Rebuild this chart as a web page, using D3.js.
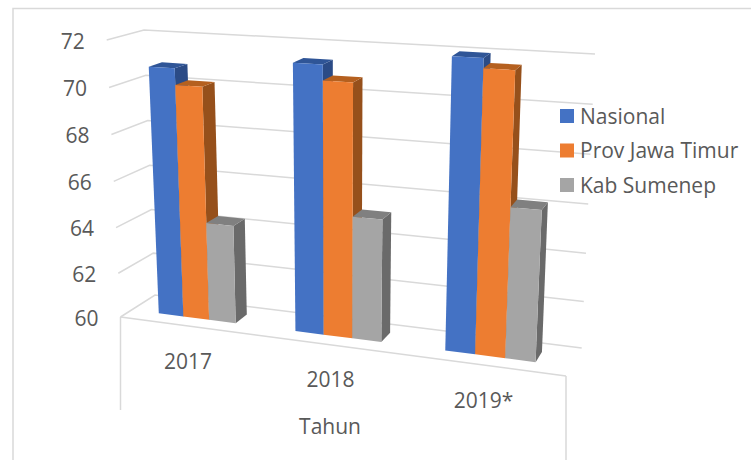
<!DOCTYPE html>
<html lang="en">
<head>
<meta charset="utf-8" />
<title>Tahun</title>
<style>
  body{margin:0;background:#fff;overflow:hidden}
  text{font-family:"Open Sans",sans-serif;fill:#595959}
  .grid{stroke:#d9d9d9;stroke-width:1.5;fill:none}
</style>
<script src="https://cdn.jsdelivr.net/npm/d3@7.9.0/dist/d3.min.js"></script>
</head>
<body>
<div id="chart"></div>
<script>
/* data */
const years = ['2017','2018','2019*'];
const seriesNames = ['Nasional','Prov Jawa Timur','Kab Sumenep'];
const nasional = [70.8,71.35,72.0];
const jatim    = [70.1,70.7,71.6];
const sumenep  = [64.3,65.2,66.2];
const valueTicks = [60,62,64,66,68,70,72];
const xTitle = 'Tahun';

const W = 751, H = 460, FS = 21;
const FRONT = '#4472c4 #ed7d31 #a5a5a5'.split(' ');
const TOP   = '#2f5597 #b5601f #808080'.split(' ');
const SIDE  = '#2b4b86 #96501b #6a6a6a'.split(' ');

/* screen corners of the 3d box: [front/back][left/right][bottom/top] */
const BOX = {
  f:{l:{b:[120.5,317],t:[106.7,40]}, r:{b:[566,376],t:[581,69]}},
  k:{l:{b:[155,295],t:[144,30]},     r:{b:[581.7,348],t:[595,54]}}
};

const lerp = (a,b,t)=>[a[0]+(b[0]-a[0])*t,a[1]+(b[1]-a[1])*t];

/* slight perspective along width and height */
const uScale = d3.scalePow().exponent(1.1).domain([0,1]).range([0,1]);
const vScale = d3.scalePow().exponent(1.03).domain([0,12]).range([0,1]);
const val = v=>vScale(v-60);

/* u 0..1 along the width (already in band space), v value, w 0..1 depth */
function project(u,v,w){
  const su=uScale(Math.max(0,u)), sv=val(v);
  const f=lerp(lerp(BOX.f.l.b,BOX.f.r.b,su),lerp(BOX.f.l.t,BOX.f.r.t,su),sv);
  const k=lerp(lerp(BOX.k.l.b,BOX.k.r.b,su),lerp(BOX.k.l.t,BOX.k.r.t,su),sv);
  return lerp(f,k,w);
}

const x0 = d3.scaleBand().domain(years).range([.01,.995]).paddingInner(.42).paddingOuter(.21);
const x1 = d3.scaleBand().domain(seriesNames).range([0,x0.bandwidth()]);
const xLabel = d3.scalePoint().domain(years).range([.18,.83]);
const W0 = .33, W1 = .7;   // bar depth

const svg = d3.select('#chart').append('svg').attr('width',W).attr('height',H)
  .style('display','block');

/* outer frame, only top and left show */
svg.append('path').attr('class','grid').attr('d',`M13,${H}V8.5H${W}`);

/* walls */
const line = d3.line();
const gridG = svg.append('g');
valueTicks.forEach(v=>{
  gridG.append('path').attr('class','grid')
    .attr('d',line([project(0,v,0),project(0,v,1),project(1,v,1)]));
});
/* floor front edge + the two drops */
gridG.append('path').attr('class','grid').attr('d',line([project(0,60,0),project(1,60,0)]));
gridG.append('path').attr('class','grid').attr('d',line([project(0,60,0),[project(0,60,0)[0],410]]));
gridG.append('path').attr('class','grid').attr('d',line([project(1,60,0),[project(1,60,0)[0],H]]));

/* value labels */
svg.append('g').selectAll('text').data(valueTicks).join('text')
  .attr('x',d=>project(0,d,0)[0]-22)
  .attr('y',d=>project(0,d,0)[1]+3)
  .attr('text-anchor','end').attr('dominant-baseline','middle')
  .attr('font-size',FS).text(d=>d);

/* bars */
const seriesVals = [nasional,jatim,sumenep];
const barsG = svg.append('g');
const poly = (pts,fill)=>barsG.append('path').attr('d',line(pts)+'Z').attr('fill',fill);
years.forEach((yr,i)=>{
  seriesNames.forEach((s,j)=>{
    const a = x0(yr)+x1(s), b = a+x1.bandwidth(), v = seriesVals[j][i];
    poly([project(b,60,W0),project(b,60,W1),project(b,v,W1),project(b,v,W0)],SIDE[j]);
    poly([project(a,v,W0),project(b,v,W0),project(b,v,W1),project(a,v,W1)],TOP[j]);
    poly([project(a,60,W0),project(b,60,W0),project(b,v,W0),project(a,v,W0)],FRONT[j]);
  });
});

/* category labels */
svg.append('g').selectAll('text').data(years).join('text')
  .attr('x',d=>project(xLabel(d),60,0)[0])
  .attr('y',d=>project(xLabel(d),60,0)[1]+37)
  .attr('text-anchor','middle').attr('dominant-baseline','middle')
  .attr('font-size',FS).text(d=>d);

svg.append('text').attr('x',330).attr('y',428)
  .attr('text-anchor','middle').attr('dominant-baseline','middle')
  .attr('font-size',FS).text(xTitle);

/* legend */
const leg = svg.append('g').selectAll('g').data(seriesNames).join('g')
  .attr('transform',(d,i)=>`translate(560,${116+i*34.5})`);
leg.append('rect').attr('y',-7).attr('width',14).attr('height',14)
  .attr('fill',(d,i)=>FRONT[i]);
leg.append('text').attr('x',20).attr('y',2).attr('dominant-baseline','middle')
  .attr('font-size',FS).text(d=>d);
</script>
</body>
</html>
